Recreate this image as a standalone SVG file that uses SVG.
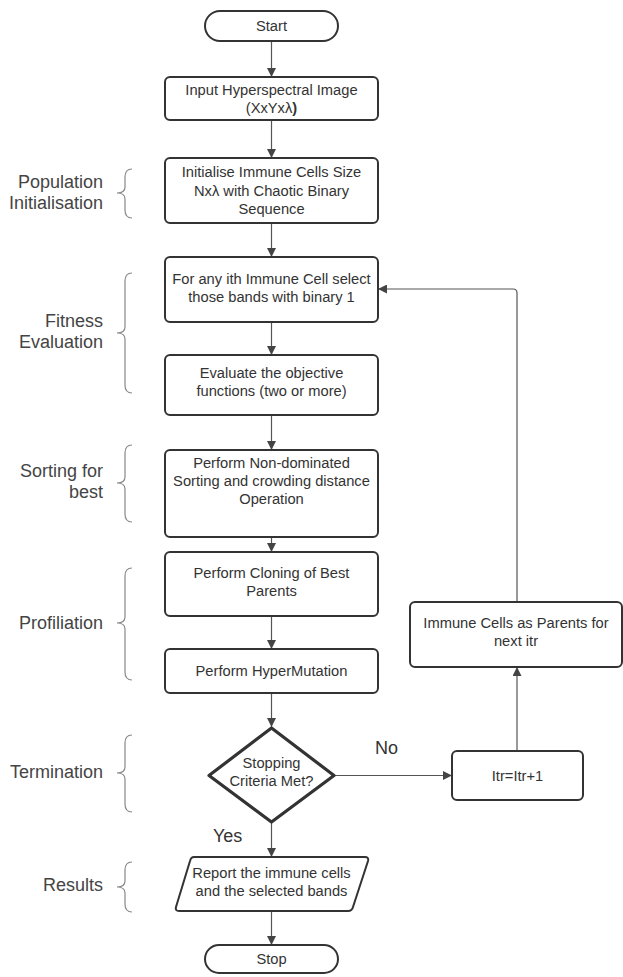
<svg xmlns="http://www.w3.org/2000/svg" width="623" height="977" viewBox="0 0 623 977">
<style>
.n{fill:#fff;stroke:#333;stroke-width:2}
.d{fill:#fff;stroke:#333;stroke-width:3.2;stroke-linejoin:round}
.t{font-family:"Liberation Sans",Arial,sans-serif;font-size:14.7px;fill:#333;text-anchor:middle}
.l{font-family:"Liberation Sans",Arial,sans-serif;font-size:18px;fill:#444;text-anchor:end}
.y{font-family:"Liberation Sans",Arial,sans-serif;font-size:18px;fill:#333}
.c{fill:none;stroke:#555;stroke-width:1.2}
.b{fill:none;stroke:#888;stroke-width:1.2}
</style>
<defs>
<marker id="a" viewBox="0 0 10 10" refX="10" refY="5" markerWidth="10" markerHeight="9" markerUnits="userSpaceOnUse" orient="auto">
<path d="M0,0 L10,5 L0,10 Z" fill="#444"/>
</marker>
</defs>
<rect width="623" height="977" fill="#fff"/>

<g id="labels">
<text class="l" x="103" y="188">Population</text>
<text class="l" x="103" y="209">Initialisation</text>
<text class="l" x="103" y="327">Fitness</text>
<text class="l" x="103" y="348">Evaluation</text>
<text class="l" x="103" y="477">Sorting for</text>
<text class="l" x="103" y="498">best</text>
<text class="l" x="103" y="629">Profiliation</text>
<text class="l" x="103" y="778">Termination</text>
<text class="l" x="103" y="891">Results</text>
</g>

<g id="braces">
<path class="b" d="M132,169 Q125,169 125,177 L125,187 Q125,193 117,193 Q125,193 125,199 L125,210 Q125,218 132,218"/>
<path class="b" d="M132,273 Q125,273 125,281 L125,327 Q125,333 117,333 Q125,333 125,339 L125,385 Q125,393 132,393"/>
<path class="b" d="M132,445 Q125,445 125,453 L125,477 Q125,483 117,483 Q125,483 125,489 L125,514 Q125,522 132,522"/>
<path class="b" d="M132,568 Q125,568 125,576 L125,617 Q125,623 117,623 Q125,623 125,629 L125,672 Q125,680 132,680"/>
<path class="b" d="M132,735 Q125,735 125,743 L125,767 Q125,773 117,773 Q125,773 125,779 L125,804 Q125,812 132,812"/>
<path class="b" d="M132,862 Q125,862 125,870 L125,881 Q125,887 117,887 Q125,887 125,893 L125,904 Q125,912 132,912"/>
</g>

<g id="connectors">
<path class="c" d="M271.5,41 V77" marker-end="url(#a)"/>
<path class="c" d="M271.5,120 V158" marker-end="url(#a)"/>
<path class="c" d="M271.5,223 V257" marker-end="url(#a)"/>
<path class="c" d="M271.5,322 V355" marker-end="url(#a)"/>
<path class="c" d="M271.5,415 V450" marker-end="url(#a)"/>
<path class="c" d="M271.5,537 V552" marker-end="url(#a)"/>
<path class="c" d="M271.5,616 V649" marker-end="url(#a)"/>
<path class="c" d="M271.5,693 V727" marker-end="url(#a)"/>
<path class="c" d="M335,775.5 H452" marker-end="url(#a)"/>
<path class="c" d="M517,751 V667" marker-end="url(#a)"/>
<path class="c" d="M517,602 V293 Q517,289 513,289 H378" marker-end="url(#a)"/>
<path class="c" d="M271.5,823 V857" marker-end="url(#a)"/>
<path class="c" d="M271.5,911 V945" marker-end="url(#a)"/>
<text class="y" x="213" y="842">Yes</text>
<text class="y" x="375" y="754">No</text>
</g>

<g id="start">
<rect class="n" x="205" y="11" width="133" height="30" rx="15"/>
<text class="t" x="271.5" y="31">Start</text>
</g>

<g id="input">
<rect class="n" x="165" y="77" width="213" height="43" rx="5"/>
<text class="t" x="271.5" y="95">Input Hyperspectral Image</text>
<text class="t" x="271.5" y="113">(XxYxλ<tspan font-weight="bold">)</tspan></text>
</g>

<g id="init">
<rect class="n" x="165" y="158" width="213" height="65" rx="5"/>
<text class="t" x="271.5" y="177">Initialise Immune Cells Size</text>
<text class="t" x="271.5" y="196">Nxλ with Chaotic Binary</text>
<text class="t" x="271.5" y="214">Sequence</text>
</g>

<g id="select">
<rect class="n" x="165" y="257" width="213" height="65" rx="5"/>
<text class="t" x="271.5" y="284">For any ith Immune Cell select</text>
<text class="t" x="271.5" y="302">those bands with binary 1</text>
</g>

<g id="evaluate">
<rect class="n" x="165" y="355" width="213" height="60" rx="5"/>
<text class="t" x="271.5" y="378">Evaluate the objective</text>
<text class="t" x="271.5" y="396">functions (two or more)</text>
</g>

<g id="sorting">
<rect class="n" x="165" y="450" width="213" height="87" rx="5"/>
<text class="t" x="271.5" y="468">Perform Non-dominated</text>
<text class="t" x="271.5" y="486">Sorting and crowding distance</text>
<text class="t" x="271.5" y="504">Operation</text>
</g>

<g id="cloning">
<rect class="n" x="165" y="552" width="213" height="64" rx="5"/>
<text class="t" x="271.5" y="578">Perform Cloning of Best</text>
<text class="t" x="271.5" y="596">Parents</text>
</g>

<g id="mutation">
<rect class="n" x="165" y="649" width="213" height="44" rx="5"/>
<text class="t" x="271.5" y="676">Perform HyperMutation</text>
</g>

<g id="decision">
<path class="d" d="M271.5,728 L334,775.5 L271.5,822 L209,775.5 Z"/>
<text class="t" x="271.5" y="768">Stopping</text>
<text class="t" x="271.5" y="786">Criteria Met?</text>
</g>

<g id="itr">
<rect class="n" x="452" y="751" width="131" height="49" rx="5"/>
<text class="t" x="517.5" y="781">Itr=Itr+1</text>
</g>

<g id="parents">
<rect class="n" x="410" y="602" width="212" height="65" rx="5"/>
<text class="t" x="516" y="628">Immune Cells as Parents for</text>
<text class="t" x="516" y="646">next itr</text>
</g>

<g id="report">
<path class="n" d="M194,857 H365 Q369,857 368,861 L353,907 Q352,911 348,911 H179 Q175,911 176,907 L190,861 Q191,857 194,857 Z"/>
<text class="t" x="271.5" y="878">Report the immune cells</text>
<text class="t" x="271.5" y="896">and the selected bands</text>
</g>

<g id="stop">
<rect class="n" x="205" y="945" width="133" height="28" rx="14"/>
<text class="t" x="271.5" y="964">Stop</text>
</g>
</svg>
